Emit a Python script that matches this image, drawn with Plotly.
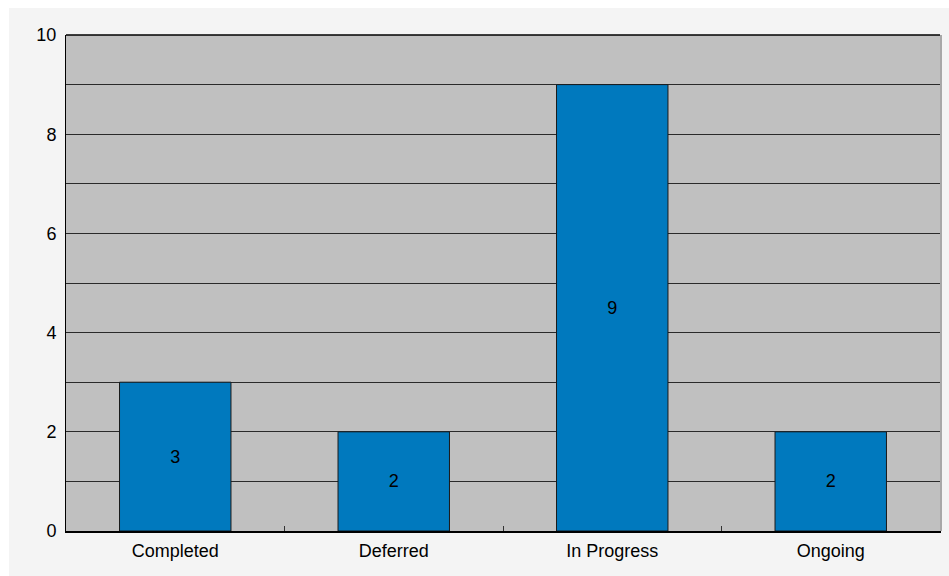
import plotly.graph_objects as go

categories = ["Completed", "Deferred", "In Progress", "Ongoing"]
values = [3, 2, 9, 2]
y_tickvals = [0, 2, 4, 6, 8, 10]

W, H = 949, 576
ml, mr, mt, mb = 66, 9, 35, 45
pw, ph = W - ml - mr, H - mt - mb

fig = go.Figure(go.Bar(
    x=categories, y=values,
    marker=dict(color="#0079BE", line=dict(color="#1a1a1a", width=1)),
    text=values, textposition="inside", insidetextanchor="middle",
    textfont=dict(color="#000000", size=18, family="Liberation Sans, Arial"),
    width=0.51,
))

fig.update_layout(
    width=W, height=H,
    margin=dict(l=ml, r=mr, t=mt, b=mb, pad=0),
    paper_bgcolor="#F4F4F4",
    plot_bgcolor="#C0C0C0",
    font=dict(family="Liberation Sans, Arial", size=18, color="#000000"),
    showlegend=False,
    xaxis=dict(
        showgrid=False, showline=True, linecolor="#000000", linewidth=2,
        ticks="inside", tickson="boundaries", ticklen=5, tickcolor="#333333",
        tickfont=dict(size=18), ticklabelstandoff=2,
    ),
    yaxis=dict(
        range=[0, 10], tickvals=y_tickvals, showgrid=True, gridcolor="#2a2a2a", gridwidth=1,
        minor=dict(dtick=1, showgrid=True, gridcolor="#2a2a2a", gridwidth=1),
        showline=True, linecolor="#000000", linewidth=1, mirror=True,
        ticks="", tickfont=dict(size=18), zeroline=False, ticklabelstandoff=5,
    ),
    shapes=[
        dict(type="line", xref="paper", yref="paper", x0=0, x1=1, y0=1, y1=1,
             line=dict(color="#000000", width=1.5), layer="above"),
        dict(type="rect", xref="paper", yref="paper", x0=-ml / pw, x1=1 + mr / pw,
             y0=1 + 27 / ph, y1=1 + mt / ph + 0.01, fillcolor="#FFFFFF", line=dict(width=0), layer="above"),
        dict(type="rect", xref="paper", yref="paper", x0=-ml / pw - 0.01, x1=-(ml - 9) / pw,
             y0=-mb / ph - 0.01, y1=1 + mt / ph + 0.01, fillcolor="#FFFFFF", line=dict(width=0), layer="above"),
        dict(type="rect", xref="paper", yref="paper", x0=1, x1=1 + 2 / pw,
             y0=0, y1=1, fillcolor="#A8A8A8", line=dict(width=0), layer="above"),
    ],
)

fig.write_html("out.html")
